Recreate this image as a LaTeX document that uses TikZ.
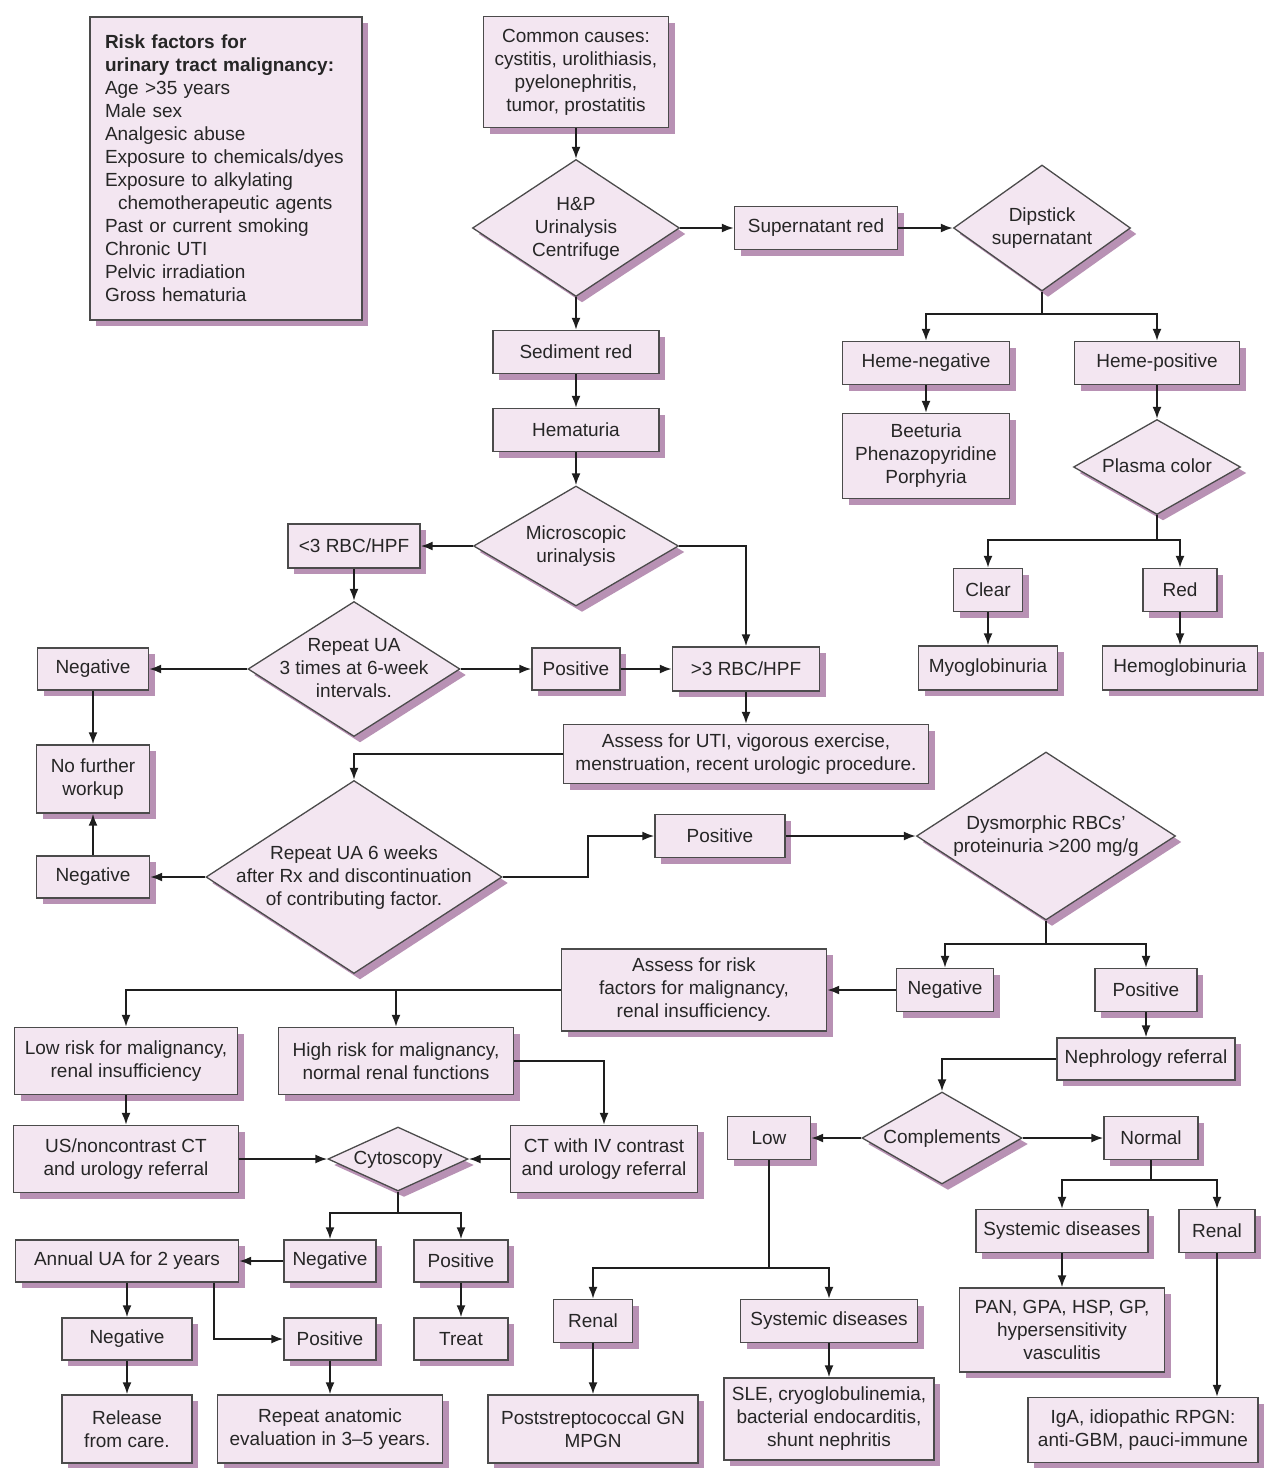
\documentclass[tikz,border=0pt]{standalone}
\usepackage{fontspec}
\setmainfont{Liberation Sans}
\usetikzlibrary{shapes.geometric,arrows.meta,shadows,calc}
\definecolor{boxfill}{RGB}{243,230,241}
\definecolor{shadowc}{RGB}{184,145,180}
\definecolor{edgec}{RGB}{75,75,75}
\definecolor{linec}{RGB}{30,30,30}
\newcommand\dtext[1]{\makebox[0pt]{\raisebox{-0.25em}[0pt][0pt]{\begin{tabular}{@{}c@{}}#1\end{tabular}}}}
\tikzset{
  base/.style={draw=edgec, line width=1.3pt, fill=boxfill,
    drop shadow={shadow xshift=6pt, shadow yshift=-6pt, opacity=1, fill=shadowc, draw=none}},
  box/.style={base, rectangle, align=center, inner sep=2pt},
  dia/.style={base, diamond, inner sep=0pt},
  arr/.style={draw=linec, line width=2pt, -{Latex[length=12pt,width=9pt]}},
  ln/.style={draw=linec, line width=2pt},
  every node/.style={font=\fontsize{19}{23}\selectfont, text=black!85},
}
\begin{document}
\begin{tikzpicture}[x=1pt,y=-1pt]
\useasboundingbox (0,0) rectangle (1264,1468);
\fill[white] (0,0) rectangle (1264,1468);

% risk factors
\node[base, rectangle, align=left, text width=242pt, inner xsep=15pt, minimum height=303pt] (risk) at (226,168.5)
 {\textbf{Risk factors for}\\ \textbf{urinary tract malignancy:}\\ Age >35 years\\ Male sex\\ Analgesic abuse\\ Exposure to chemicals/dyes\\ Exposure to alkylating\\ \hspace*{13pt}chemotherapeutic agents\\ Past or current smoking\\ Chronic UTI\\ Pelvic irradiation\\ Gross hematuria};

% top chain
\node[box, minimum width=185pt, minimum height=111pt] (common) at (576,72) {Common causes:\\ cystitis, urolithiasis,\\ pyelonephritis,\\ tumor, prostatitis};
\node[dia, minimum width=207pt, minimum height=137pt] (hp) at (576,228) {\dtext{H\&P\\ Urinalysis\\ Centrifuge}};
\node[box, minimum width=163pt, minimum height=43pt] (supr) at (816,228) {Supernatant red};
\node[dia, minimum width=177pt, minimum height=126pt] (dip) at (1042,228) {\dtext{Dipstick\\ supernatant}};
\node[box, minimum width=167pt, minimum height=43pt] (hneg) at (926,363) {Heme-negative};
\node[box, minimum width=165pt, minimum height=43pt] (hpos) at (1157,363) {Heme-positive};
\node[box, minimum width=167pt, minimum height=85pt] (beet) at (926,456) {Beeturia\\ Phenazopyridine\\ Porphyria};
\node[dia, minimum width=167pt, minimum height=95pt] (plasma) at (1157,467) {\dtext{Plasma color}};
\node[box, minimum width=69pt, minimum height=43pt] (clear) at (988,590) {Clear};
\node[box, minimum width=74pt, minimum height=43pt] (red) at (1180,590) {Red};
\node[box, minimum width=139pt, minimum height=44pt] (myo) at (988,668) {Myoglobinuria};
\node[box, minimum width=155pt, minimum height=44pt] (hemo) at (1180,668) {Hemoglobinuria};

\node[box, minimum width=166pt, minimum height=43pt] (sed) at (576,352) {Sediment red};
\node[box, minimum width=166pt, minimum height=43pt] (hem) at (576,430) {Hematuria};
\node[dia, minimum width=205pt, minimum height=120pt] (micro) at (576,546) {\dtext{Microscopic\\ urinalysis}};
\node[box, minimum width=132pt, minimum height=44pt] (lt3) at (354,546) {<3 RBC/HPF};
\node[box, minimum width=147pt, minimum height=44pt] (gt3) at (746,669) {>3 RBC/HPF};
\node[dia, minimum width=212pt, minimum height=135pt] (rep3) at (354,669) {\dtext{Repeat UA\\ 3 times at 6-week\\ intervals.}};
\node[box, minimum width=111pt, minimum height=42pt] (neg1) at (93,669) {Negative};
\node[box, minimum width=88pt, minimum height=42pt] (pos1) at (576,669) {Positive};
\node[box, minimum width=113pt, minimum height=68pt] (nfw) at (93,779) {No further\\ workup};
\node[box, minimum width=365pt, minimum height=59pt] (assess) at (746,754) {Assess for UTI, vigorous exercise,\\ menstruation, recent urologic procedure.};
\node[dia, minimum width=296pt, minimum height=193pt] (rep6) at (354,877) {\dtext{Repeat UA 6 weeks\\ after Rx and discontinuation\\ of contributing factor.}};
\node[box, minimum width=113pt, minimum height=42pt] (neg2) at (93,877) {Negative};
\node[box, minimum width=130pt, minimum height=43pt] (pos2) at (720,836) {Positive};
\node[dia, minimum width=259pt, minimum height=168pt] (dys) at (1046,836) {\dtext{Dysmorphic RBCs'\\ proteinuria >200 mg/g}};
\node[box, minimum width=97pt, minimum height=43pt] (neg3) at (945,990) {Negative};
\node[box, minimum width=102pt, minimum height=43pt] (pos3) at (1146,990) {Positive};
\node[box, minimum width=265pt, minimum height=82pt] (arisk) at (694,990) {Assess for risk\\ factors for malignancy,\\ renal insufficiency.};

% lower left
\node[box, minimum width=223pt, minimum height=67pt] (low) at (126,1061) {Low risk for malignancy,\\ renal insufficiency};
\node[box, minimum width=235pt, minimum height=67pt] (high) at (396,1061) {High risk for malignancy,\\ normal renal functions};
\node[box, minimum width=225pt, minimum height=67pt] (us) at (126,1159) {US/noncontrast CT\\ and urology referral};
\node[box, minimum width=187pt, minimum height=67pt] (ct) at (604,1159) {CT with IV contrast\\ and urology referral};
\node[dia, minimum width=140pt, minimum height=64pt] (cyto) at (398,1159) {\dtext{Cytoscopy}};
\node[box, minimum width=92pt, minimum height=42pt] (neg4) at (330,1261) {Negative};
\node[box, minimum width=94pt, minimum height=42pt] (pos4) at (461,1261) {Positive};
\node[box, minimum width=223pt, minimum height=42pt] (annual) at (127,1261) {Annual UA for 2 years};
\node[box, minimum width=130pt, minimum height=42pt] (neg5) at (127,1339) {Negative};
\node[box, minimum width=92pt, minimum height=42pt] (pos5) at (330,1339) {Positive};
\node[box, minimum width=94pt, minimum height=42pt] (treat) at (461,1339) {Treat};
\node[box, minimum width=130pt, minimum height=68pt] (release) at (127,1429) {Release\\ from care.};
\node[box, minimum width=225pt, minimum height=68pt] (repanat) at (330,1429) {Repeat anatomic\\ evaluation in 3--5 years.};

% lower right
\node[box, minimum width=178pt, minimum height=42pt] (neph) at (1146,1059) {Nephrology referral};
\node[dia, minimum width=160pt, minimum height=92pt] (comp) at (942,1138) {\dtext{Complements}};
\node[box, minimum width=83pt, minimum height=43pt] (lowc) at (769,1138) {Low};
\node[box, minimum width=94pt, minimum height=43pt] (normal) at (1151,1138) {Normal};
\node[box, minimum width=79pt, minimum height=43pt] (ren2) at (593,1321) {Renal};
\node[box, minimum width=177pt, minimum height=43pt] (sys2) at (829,1321) {Systemic diseases};
\node[box, minimum width=210pt, minimum height=68pt] (post) at (593,1429) {Poststreptococcal GN\\ MPGN};
\node[box, minimum width=210pt, minimum height=82pt] (sle) at (829,1419) {SLE, cryoglobulinemia,\\ bacterial endocarditis,\\ shunt nephritis};
\node[box, minimum width=172pt, minimum height=43pt] (sys3) at (1062,1231) {Systemic diseases};
\node[box, minimum width=76pt, minimum height=43pt] (ren3) at (1217,1231) {Renal};
\node[box, minimum width=205pt, minimum height=84pt] (pan) at (1062,1330) {PAN, GPA, HSP, GP,\\ hypersensitivity\\ vasculitis};
\node[box, minimum width=230pt, minimum height=65pt] (iga) at (1143,1430) {IgA, idiopathic RPGN:\\ anti-GBM, pauci-immune};

% connectors
\draw[arr] (common) -- (hp);
\draw[arr] (hp) -- (supr);
\draw[arr] (supr) -- (dip);
\draw[ln] (dip.south) -- ++(0,22) coordinate (dipj);
\draw[arr] (dipj) -| (hneg.north);
\draw[arr] (dipj) -| (hpos.north);
\draw[arr] (hneg) -- (beet);
\draw[arr] (hpos) -- (plasma);
\draw[ln] (plasma.south) -- ++(0,25) coordinate (plj);
\draw[arr] (plj) -| (clear.north);
\draw[arr] (plj) -| (red.north);
\draw[arr] (clear) -- (myo);
\draw[arr] (red) -- (hemo);

\draw[arr] (hp) -- (sed);
\draw[arr] (sed) -- (hem);
\draw[arr] (hem) -- (micro);
\draw[arr] (micro.west) -- (lt3.east);
\draw[arr] (micro.east) -| (gt3.north);
\draw[arr] (lt3) -- (rep3);
\draw[arr] (rep3.west) -- (neg1.east);
\draw[arr] (rep3.east) -- (pos1.west);
\draw[arr] (pos1) -- (gt3);
\draw[arr] (neg1) -- (nfw);
\draw[arr] (gt3) -- (assess);
\draw[arr] (assess.west) -| (rep6.north);
\draw[arr] (rep6.west) -- (neg2.east);
\draw[arr] (neg2) -- (nfw);
\draw[arr] (rep6.east) -- ++(85,0) |- (pos2.west);
\draw[arr] (pos2) -- (dys.west);
\draw[ln] (dys.south) -- ++(0,23) coordinate (dysj);
\draw[arr] (dysj) -| (neg3.north);
\draw[arr] (dysj) -| (pos3.north);
\draw[arr] (neg3) -- (arisk);
\draw[arr] (pos3) -- (neph);

\draw[arr] (arisk.west) -| (low.north);
\draw[arr] (arisk.west -| high.north) -- (high.north);
\draw[arr] (low) -- (us);
\draw[arr] (high.east) -| (ct.north);
\draw[arr] (us.east) -- (cyto.west);
\draw[arr] (ct.west) -- (cyto.east);
\draw[ln] (cyto.south) -- ++(0,21) coordinate (cyj);
\draw[arr] (cyj) -| (neg4.north);
\draw[arr] (cyj) -| (pos4.north);
\draw[arr] (neg4) -- (annual);
\draw[arr] (pos4) -- (treat);
\draw[arr] (annual) -- (neg5);
\draw[arr] ([xshift=87pt]annual.south) |- (pos5.west);
\draw[arr] (neg5) -- (release);
\draw[arr] (pos5) -- (repanat);

\draw[arr] (neph.west) -| (comp.north);
\draw[arr] (comp.west) -- (lowc.east);
\draw[arr] (comp.east) -- (normal.west);
\draw[ln] (lowc.south) -- ++(0,108) coordinate (lowj);
\draw[arr] (lowj) -| (ren2.north);
\draw[arr] (lowj) -| (sys2.north);
\draw[arr] (ren2) -- (post);
\draw[arr] (sys2) -- (sle);
\draw[ln] (normal.south) -- ++(0,20) coordinate (nj);
\draw[arr] (nj) -| (sys3.north);
\draw[arr] (nj) -| (ren3.north);
\draw[arr] (sys3) -- (pan);
\draw[arr] (ren3.south) -- (ren3.south |- iga.north);
\end{tikzpicture}
\end{document}
